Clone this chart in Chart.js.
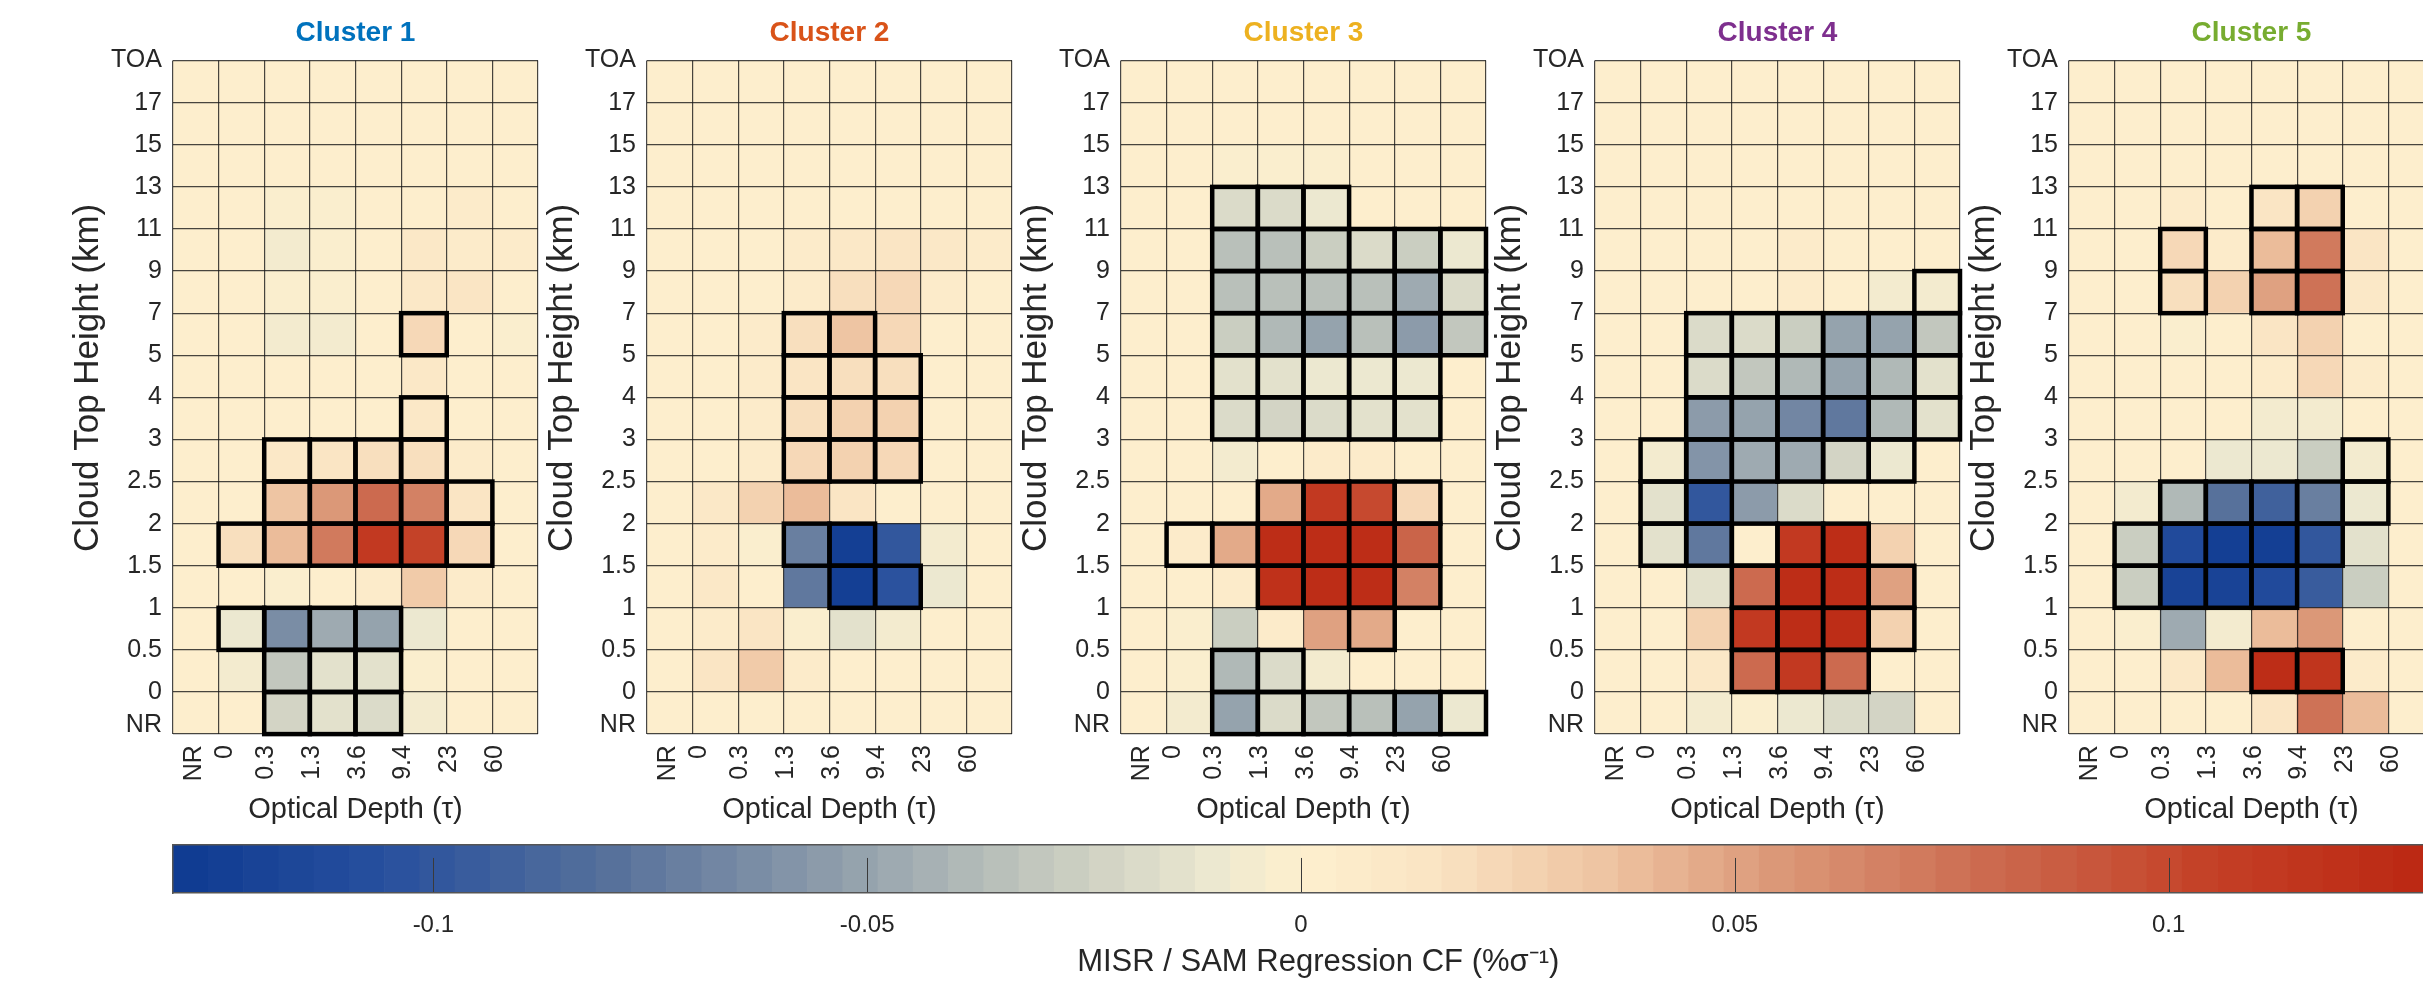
<!DOCTYPE html>
<html>
<head>
<meta charset="utf-8">
<title>MISR / SAM regression by cluster</title>
<script src="https://cdn.jsdelivr.net/npm/chart.js@4.4.1/dist/chart.umd.min.js"></script>
<style>
  html, body { margin: 0; padding: 0; background: #fff; }
  body { width: 2423px; height: 982px; overflow: hidden; position: relative; }
  .box { position: absolute; }
</style>
</head>
<body>
<script>
// axis labels
const xTickLabels = ['NR', '0', '0.3', '1.3', '3.6', '9.4', '23', '60'];
const xTickPos = [0.46, 1.15, 2.05, 3.05, 4.05, 5.05, 6.05, 7.05];
const yTickLabels = ['NR', '0', '0.5', '1', '1.5', '2', '2.5', '3', '4', '5', '7', '9', '11', '13', '15', '17', 'TOA'];
const yTickPos = [0.22, 1, 2, 3, 4, 5, 6, 7, 8, 9, 10, 11, 12, 13, 14, 15, 16];

const clusterNames = ['Cluster 1', 'Cluster 2', 'Cluster 3', 'Cluster 4', 'Cluster 5'];
const clusterColors = ['#0072BD', '#D95319', '#EDB120', '#7E2F8E', '#77AC30'];

// regression values, rows from TOA (top) down to NR, columns NR .. 60
const c1Values = [
  [0.003, 0.003, 0.003, 0.003, 0.003, 0.003, 0.003, 0.003],
  [0.003, 0.003, 0.003, 0.003, 0.003, 0.003, 0.003, 0.003],
  [0.003, 0.003, 0.002, 0.001, 0.003, 0.003, 0.003, 0.003],
  [0.003, 0.002, -0.002, -0.001, 0.002, 0.004, 0.006, 0.004],
  [0.003, 0.002, -0.006, -0.003, 0.002, 0.011, 0.008, 0.005],
  [0.003, 0.001, -0.002, -0.004, 0.002, 0.012, 0.015, 0.004],
  [0.003, 0.001, -0.005, -0.005, 0.002, 0.022, 0.004, -0.003],
  [0.003, 0.002, 0.003, 0.003, 0.003, 0.009, 0.004, 0.004],
  [0.003, 0.003, 0.004, 0.004, 0.004, 0.009, 0.004, 0.003],
  [0.002, 0.003, 0.011, 0.014, 0.02, 0.018, 0.005, 0.003],
  [0.002, 0.004, 0.034, 0.055, 0.08, 0.066, 0.013, 0.003],
  [0.002, 0.018, 0.04, 0.07, 0.11, 0.105, 0.021, 0.003],
  [0.003, 0.004, -0.004, 0.001, 0.006, 0.032, 0.006, 0.003],
  [0.003, -0.01, -0.065, -0.045, -0.05, -0.01, 0.004, 0.003],
  [0.002, -0.008, -0.03, -0.015, -0.015, -0.004, 0.003, 0.003],
  [0.002, 0.001, -0.022, -0.016, -0.02, -0.006, 0.003, 0.003]
];
const c2Values = [
  [0.003, 0.003, 0.003, 0.003, 0.003, 0.003, 0.003, 0.003],
  [0.003, 0.003, 0.003, 0.003, 0.003, 0.003, 0.003, 0.003],
  [0.003, 0.003, 0.003, 0.003, 0.003, 0.003, 0.003, 0.003],
  [0.003, 0.003, 0.003, 0.003, 0.004, 0.004, 0.004, 0.004],
  [0.003, 0.003, 0.003, 0.005, 0.012, 0.013, 0.009, 0.006],
  [0.003, 0.003, 0.004, 0.008, 0.02, 0.021, 0.008, 0.004],
  [0.003, 0.003, 0.006, 0.02, 0.036, 0.024, 0.003, 0.003],
  [0.003, 0.003, 0.006, 0.015, 0.02, 0.018, 0.003, 0.003],
  [0.003, 0.003, 0.006, 0.018, 0.026, 0.026, 0.003, 0.003],
  [0.003, 0.003, 0.008, 0.023, 0.028, 0.021, 0.003, 0.003],
  [0.003, 0.009, 0.026, 0.038, 0.015, 0.002, 0.003, 0.003],
  [0.003, 0.006, -0.003, -0.07, -0.125, -0.1, -0.006, 0.003],
  [0.003, 0.009, 0.001, -0.076, -0.125, -0.105, -0.009, 0.003],
  [0.003, 0.006, 0.013, -0.002, -0.016, -0.008, 0.003, 0.003],
  [0.003, 0.016, 0.031, 0.005, 0.004, 0.004, 0.003, 0.003],
  [0.003, 0.004, 0.003, 0.003, 0.003, 0.003, 0.003, 0.003]
];
const c3Values = [
  [0.003, 0.003, 0.003, 0.003, 0.003, 0.003, 0.003, 0.003],
  [0.003, 0.003, 0.003, 0.003, 0.003, 0.003, 0.003, 0.003],
  [0.003, 0.003, -0.001, -0.001, -0.001, 0.002, 0.002, 0.003],
  [0.003, 0.003, -0.02, -0.02, -0.012, 0.003, 0.003, 0.003],
  [0.003, 0.003, -0.036, -0.035, -0.025, -0.02, -0.026, -0.012],
  [0.003, 0.003, -0.035, -0.036, -0.035, -0.035, -0.045, -0.02],
  [0.003, 0.003, -0.025, -0.04, -0.05, -0.035, -0.055, -0.03],
  [0.003, 0.003, -0.015, -0.016, -0.012, -0.012, -0.01, 0.003],
  [0.003, 0.003, -0.02, -0.022, -0.018, -0.015, -0.013, 0.003],
  [0.003, 0.003, -0.005, 0.003, 0.005, 0.008, 0.004, 0.003],
  [0.003, 0.004, 0.004, 0.045, 0.11, 0.1, 0.022, 0.003],
  [0.003, 0.008, 0.045, 0.125, 0.125, 0.125, 0.085, 0.003],
  [0.003, 0.004, 0.008, 0.12, 0.125, 0.125, 0.065, 0.003],
  [0.003, -0.003, -0.025, 0.005, 0.05, 0.046, 0.003, 0.003],
  [0.003, -0.003, -0.04, -0.02, -0.008, 0.003, 0.003, 0.003],
  [0.003, -0.005, -0.05, -0.02, -0.03, -0.035, -0.05, -0.012]
];
const c4Values = [
  [0.003, 0.003, 0.003, 0.003, 0.003, 0.003, 0.003, 0.003],
  [0.003, 0.003, 0.003, 0.003, 0.003, 0.003, 0.003, 0.003],
  [0.003, 0.003, 0.003, 0.003, 0.003, 0.003, 0.003, 0.003],
  [0.003, 0.003, 0.001, 0.003, 0.003, 0.003, 0.003, 0.003],
  [0.003, 0.003, 0.003, 0.003, 0.008, 0.004, 0.003, 0.003],
  [0.003, 0.003, 0.003, 0.003, 0.008, 0.004, -0.005, -0.008],
  [0.003, 0.003, -0.02, -0.02, -0.026, -0.05, -0.05, -0.03],
  [0.003, 0.003, -0.02, -0.03, -0.04, -0.05, -0.04, -0.015],
  [0.003, 0.002, -0.055, -0.05, -0.068, -0.075, -0.04, -0.016],
  [0.003, -0.008, -0.058, -0.045, -0.048, -0.024, -0.01, 0.002],
  [0.003, -0.015, -0.1, -0.056, -0.018, 0.004, 0.002, 0.003],
  [0.003, -0.015, -0.075, 0.001, 0.11, 0.125, 0.025, 0.003],
  [0.003, 0.003, -0.016, 0.08, 0.125, 0.125, 0.05, 0.003],
  [0.003, 0.003, 0.025, 0.11, 0.125, 0.125, 0.026, 0.003],
  [0.003, 0.003, 0.01, 0.08, 0.11, 0.08, 0.004, 0.003],
  [0.003, 0.003, -0.005, -0.003, -0.01, -0.02, -0.022, 0.003]
];
const c5Values = [
  [0.003, 0.003, 0.003, 0.003, 0.003, 0.003, 0.003, 0.003],
  [0.003, 0.003, 0.003, 0.003, 0.003, 0.003, 0.003, 0.003],
  [0.003, 0.003, 0.003, 0.003, 0.003, 0.003, 0.003, 0.003],
  [0.003, 0.003, 0.008, 0.003, 0.015, 0.026, 0.003, 0.003],
  [0.003, 0.003, 0.022, 0.008, 0.04, 0.07, 0.016, 0.004],
  [0.003, 0.003, 0.02, 0.028, 0.05, 0.075, 0.01, 0.003],
  [0.003, 0.001, -0.003, 0.004, 0.015, 0.026, 0.004, 0.003],
  [0.003, 0.003, 0.002, 0.003, 0.008, 0.024, 0.008, 0.003],
  [0.003, 0.003, 0.002, 0.002, -0.006, -0.008, 0.003, 0.003],
  [0.003, 0.003, 0.003, -0.01, -0.012, -0.025, -0.005, 0.003],
  [0.003, -0.005, -0.04, -0.08, -0.09, -0.07, -0.012, 0.003],
  [0.003, -0.025, -0.11, -0.125, -0.125, -0.1, -0.015, 0.003],
  [0.003, -0.025, -0.12, -0.118, -0.11, -0.095, -0.026, 0.003],
  [0.003, -0.002, -0.045, -0.005, 0.04, 0.055, 0.003, 0.003],
  [0.003, 0.003, 0.01, 0.04, 0.125, 0.115, 0.006, 0.003],
  [0.003, 0.003, 0.003, 0.003, 0.015, 0.075, 0.04, 0.003]
];

// significant cells as [row, firstCol, lastCol]
const c1Sig = [[6, 5, 5], [8, 5, 5], [9, 2, 5], [10, 2, 6], [11, 1, 6], [13, 1, 4], [14, 2, 4], [15, 2, 4]];
const c2Sig = [[6, 3, 4], [7, 3, 5], [8, 3, 5], [9, 3, 5], [11, 3, 4], [12, 4, 5]];
const c3Sig = [[3, 2, 4], [4, 2, 7], [5, 2, 7], [6, 2, 7], [7, 2, 6], [8, 2, 6], [10, 3, 6], [11, 1, 6], [12, 3, 6], [13, 5, 5], [14, 2, 3], [15, 2, 7]];
const c4Sig = [[5, 7, 7], [6, 2, 7], [7, 2, 7], [8, 2, 7], [9, 1, 6], [10, 1, 2], [11, 1, 5], [12, 3, 6], [13, 3, 6], [14, 3, 5]];
const c5Sig = [[3, 4, 5], [4, 2, 2], [4, 4, 5], [5, 2, 2], [5, 4, 5], [9, 6, 6], [10, 2, 6], [11, 1, 5], [12, 1, 4], [14, 4, 5]];

const allValues = [c1Values, c2Values, c3Values, c4Values, c5Values];
const allSig = [c1Sig, c2Sig, c3Sig, c4Sig, c5Sig];

// colour bar
const cLim = [-0.13, 0.13];
const nLevels = 64;
const cbTicks = [-0.1, -0.05, 0, 0.05, 0.1];
const cbTickLabels = ['-0.1', '-0.05', '0', '0.05', '0.1'];

const cmapStops = [
  [-0.13, [14, 58, 145]],
  [-0.105, [40, 80, 158]],
  [-0.08, [85, 112, 155]],
  [-0.055, [140, 155, 170]],
  [-0.03, [195, 200, 190]],
  [-0.01, [236, 232, 208]],
  [0, [253, 239, 206]],
  [0.015, [250, 228, 195]],
  [0.035, [238, 196, 162]],
  [0.055, [219, 152, 120]],
  [0.08, [203, 105, 78]],
  [0.105, [196, 64, 38]],
  [0.13, [187, 39, 18]]
];

function cmap(v) {
  if (v <= cmapStops[0][0]) return cmapStops[0][1];
  for (let i = 1; i < cmapStops.length; i++) {
    const [v1, c1] = cmapStops[i];
    if (v <= v1) {
      const [v0, c0] = cmapStops[i - 1];
      const t = (v - v0) / (v1 - v0);
      return c0.map((ch, k) => Math.round(ch + (c1[k] - ch) * t));
    }
  }
  return cmapStops[cmapStops.length - 1][1];
}
const levelWidth = (cLim[1] - cLim[0]) / nLevels;
function levelOf(v) {
  return Math.min(nLevels - 1, Math.max(0, Math.floor((v - cLim[0]) / levelWidth)));
}
function levelColor(k) {
  const c = cmap(cLim[0] + (k + 0.5) * levelWidth);
  return 'rgb(' + c.join(',') + ')';
}

Chart.defaults.font.family = '"Liberation Sans", Arial, Helvetica, sans-serif';
Chart.defaults.color = '#262626';

// thick outline round each significant cell
const sigOutline = {
  id: 'sigOutline',
  afterDraw(chart, args, opts) {
    const gx = chart.scales.gx, gy = chart.scales.gy, ctx = chart.ctx;
    ctx.save();
    ctx.strokeStyle = '#000';
    ctx.lineWidth = 4.5;
    ctx.lineJoin = 'miter';
    opts.runs.forEach(([r, c0, c1]) => {
      for (let c = c0; c <= c1; c++) {
        const x0 = gx.getPixelForValue(c), x1 = gx.getPixelForValue(c + 1);
        const y0 = gy.getPixelForValue(16 - r), y1 = gy.getPixelForValue(15 - r);
        ctx.strokeRect(x0, y0, x1 - x0, y1 - y0);
      }
    });
    ctx.restore();
  }
};

// small tick marks drawn inside the colour bar
const innerTicks = {
  id: 'innerTicks',
  afterDatasetsDraw(chart) {
    const x = chart.scales.x, a = chart.chartArea, ctx = chart.ctx;
    ctx.save();
    ctx.strokeStyle = '#3a3a3a';
    ctx.lineWidth = 1;
    cbTicks.forEach(v => {
      const px = Math.round(x.getPixelForValue(v)) + 0.5;
      ctx.beginPath();
      ctx.moveTo(px, a.top + (a.bottom - a.top) * 0.27);
      ctx.lineTo(px, a.bottom);
      ctx.stroke();
    });
    ctx.restore();
  }
};

function makeBox(w, h) {
  const box = document.createElement('div');
  box.className = 'box';
  box.style.width = w + 'px';
  box.style.height = h + 'px';
  const cv = document.createElement('canvas');
  box.appendChild(cv);
  document.body.appendChild(box);
  return [box, cv];
}

// move / size the box so the plot area lands on the wanted rectangle
function place(chart, box, left, top, w, h) {
  for (let k = 0; k < 2; k++) {
    const a = chart.chartArea;
    box.style.width = (box.clientWidth + w - (a.right - a.left)) + 'px';
    box.style.height = (box.clientHeight + h - (a.bottom - a.top)) + 'px';
    chart.resize();
  }
  const a = chart.chartArea;
  box.style.left = (left - a.left) + 'px';
  box.style.top = (top - a.top) + 'px';
}

const panelLeft = [173, 647, 1121, 1595, 2069];
const gridColor = 'rgba(25,25,25,0.8)';

allValues.forEach((vals, p) => {
  const cells = [], colors = [];
  vals.forEach((row, r) => row.forEach((v, c) => {
    cells.push({ x: c + 0.5, y: [15 - r, 16 - r] });
    colors.push(levelColor(levelOf(v)));
  }));
  const [box, cv] = makeBox(560, 900);
  const chart = new Chart(cv, {
    type: 'bar',
    data: {
      datasets: [{
        data: cells,
        backgroundColor: colors,
        borderWidth: 0,
        barPercentage: 1,
        categoryPercentage: 1,
        xAxisID: 'gx',
        yAxisID: 'gy'
      }]
    },
    options: {
      responsive: true,
      maintainAspectRatio: false,
      animation: false,
      events: [],
      layout: { padding: { left: 2, right: 6, top: 2, bottom: 2 } },
      plugins: {
        legend: { display: false },
        tooltip: { enabled: false },
        title: {
          display: true,
          fullSize: false,
          text: clusterNames[p],
          color: clusterColors[p],
          font: { size: 28, weight: 'bold' },
          padding: { top: 0, bottom: 11 }
        },
        sigOutline: { runs: allSig[p] }
      },
      scales: {
        x: {
          type: 'linear', position: 'bottom', min: 0, max: 8, offset: false,
          afterBuildTicks: s => { s.ticks = xTickPos.map(v => ({ value: v })); },
          ticks: {
            autoSkip: false, minRotation: 90, maxRotation: 90, padding: 11,
            font: { size: 25 }, color: '#262626',
            callback: (v, i) => xTickLabels[i]
          },
          grid: { display: false, drawTicks: false, offset: false },
          border: { display: false },
          title: { display: true, text: 'Optical Depth (τ)', font: { size: 29 }, color: '#262626', padding: { top: 0, bottom: 0 } }
        },
        y: {
          type: 'linear', position: 'left', min: 0, max: 16, offset: false,
          afterBuildTicks: s => { s.ticks = yTickPos.map(v => ({ value: v })); },
          ticks: { autoSkip: false, padding: 11, font: { size: 25 }, color: '#262626', callback: (v, i) => yTickLabels[i] },
          grid: { display: false, drawTicks: false },
          border: { display: false },
          title: { display: true, text: '    Cloud Top Height (km)', font: { size: 35, lineHeight: 1.0 }, color: '#262626', padding: { top: 0, bottom: -6 } }
        },
        gx: {
          type: 'linear', position: 'bottom', min: 0, max: 8, offset: false,
          afterBuildTicks: s => { s.ticks = xTickLabels.concat(['']).map((_, i) => ({ value: i })); },
          ticks: { display: false },
          grid: { color: gridColor, lineWidth: 1.2, drawTicks: false, offset: false, z: 1 },
          border: { display: false }
        },
        gy: {
          type: 'linear', position: 'left', min: 0, max: 16, offset: false,
          afterBuildTicks: s => { s.ticks = yTickPos.map((_, i) => ({ value: i })); },
          ticks: { display: false },
          grid: { color: gridColor, lineWidth: 1.2, drawTicks: false, z: 1 },
          border: { display: false }
        }
      }
    },
    plugins: [sigOutline]
  });
  place(chart, box, panelLeft[p], 61, 365, 673);
});

// colour bar
const cbData = [], cbColors = [];
for (let k = 0; k < nLevels; k++) {
  cbData.push({ y: 0.5, x: [cLim[0] + k * levelWidth, cLim[0] + (k + 1) * levelWidth] });
  cbColors.push(levelColor(k));
}
const [cbBox, cbCanvas] = makeBox(2320, 160);
const cbChart = new Chart(cbCanvas, {
  type: 'bar',
  data: { datasets: [{ data: cbData, backgroundColor: cbColors, borderWidth: 0, barPercentage: 1, categoryPercentage: 1 }] },
  options: {
    indexAxis: 'y',
    responsive: true,
    maintainAspectRatio: false,
    animation: false,
    events: [],
    layout: { padding: { left: 2, right: 2, top: 2, bottom: 2 } },
    plugins: { legend: { display: false }, tooltip: { enabled: false } },
    scales: {
      x: {
        type: 'linear', position: 'bottom', min: cLim[0], max: cLim[1], offset: false,
        afterBuildTicks: s => { s.ticks = cbTicks.map(v => ({ value: v })); },
        // room for tick labels and the title below the bar
        afterFit: s => { s.height = 88; },
        ticks: { autoSkip: false, padding: 18, font: { size: 24 }, color: '#262626', callback: (v, i) => cbTickLabels[i] },
        grid: { display: false, drawTicks: false },
        border: { display: true, color: '#555', width: 1.5, z: 1 },
        title: { display: true, text: '    MISR / SAM Regression CF (%σ⁻¹)', font: { size: 31 }, color: '#262626', padding: { top: 8, bottom: 0 } }
      },
      xt: {
        type: 'linear', position: 'top', min: cLim[0], max: cLim[1], offset: false,
        ticks: { display: false },
        grid: { display: false, drawTicks: false },
        border: { display: true, color: '#555', width: 1.5, z: 1 }
      },
      y: {
        type: 'linear', position: 'left', min: 0, max: 1, offset: false,
        afterBuildTicks: s => { s.ticks = [{ value: 0 }, { value: 1 }]; },
        ticks: { display: false },
        grid: { display: false, drawTicks: false },
        border: { display: true, color: '#555', width: 1.5, z: 1 }
      }
    }
  },
  plugins: [innerTicks]
});
place(cbChart, cbBox, 172.5, 845, 2255.5, 48);
</script>
</body>
</html>
